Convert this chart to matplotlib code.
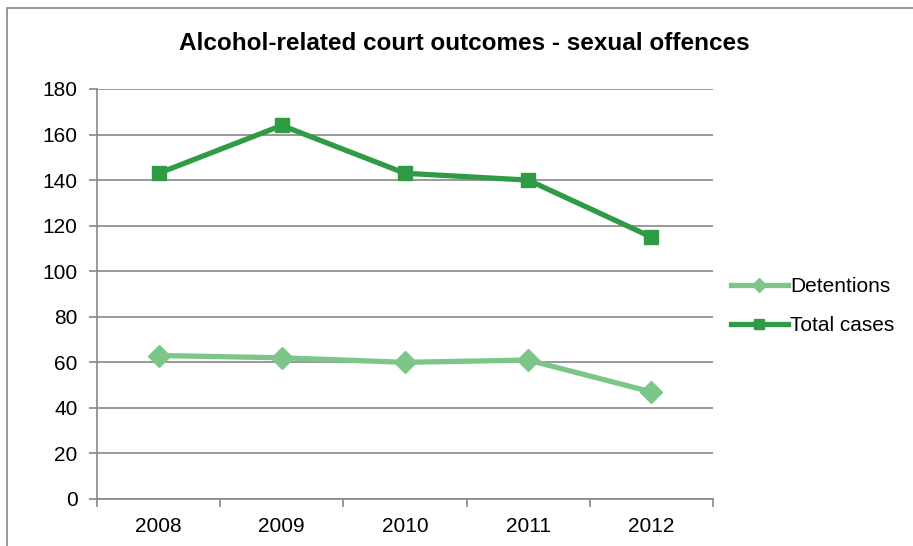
import matplotlib.pyplot as plt
from matplotlib.patches import Rectangle

plt.rcParams["font.family"] = ["Liberation Sans", "DejaVu Sans"]

years = ["2008", "2009", "2010", "2011", "2012"]
detentions = [63, 62, 60, 61, 47]
total_cases = [143, 164, 143, 140, 115]

grid_color = "#888888"

fig = plt.figure(figsize=(9.13, 5.46), dpi=100)
ax = fig.add_axes([97 / 913, 1 - 499 / 546, 616 / 913, 410 / 546])

x = list(range(len(years)))
ax.plot(x, detentions, color="#7dc68a", lw=3.8, marker="D", markersize=11,
        label="Detentions", solid_joinstyle="round", zorder=3)
ax.plot(x, total_cases, color="#2f9c45", lw=3.8, marker="s", markersize=10.5,
        label="Total cases", solid_joinstyle="round", zorder=3)

ax.set_xlim(-0.5, len(years) - 0.5)
ax.set_ylim(0, 180)
ax.set_yticks(range(0, 181, 20))
ax.set_xticks(x)
ax.set_xticklabels(years)
ax.set_xticks([i - 0.5 for i in range(len(years) + 1)], minor=True)
ax.tick_params(axis="x", which="major", length=0, pad=13, labelsize=15)
ax.tick_params(axis="x", which="minor", length=6, width=1.2, color=grid_color)
ax.tick_params(axis="y", length=6, width=1.2, color=grid_color, pad=8, labelsize=15)

ax.grid(axis="y", color=grid_color, lw=1.2)
ax.set_axisbelow(True)
for s in ["top", "right"]:
    ax.spines[s].set_visible(False)
for s in ["left", "bottom"]:
    ax.spines[s].set_color(grid_color)
    ax.spines[s].set_linewidth(1.2)

fig.text(464 / 913, 1 - 44 / 546, "Alcohol-related court outcomes - sexual offences",
         ha="center", va="center", fontsize=17.5, fontweight="bold")

fig.legend(loc="center left", bbox_to_anchor=(712 / 913, 1 - 306 / 546),
           frameon=False, fontsize=15, handlelength=2.75, markerscale=0.65,
           labelspacing=0.95, handletextpad=0.1)

fig.patches.append(Rectangle((7 / 913, -0.05), 1.2, 1 - 8 / 546 + 0.05,
                             transform=fig.transFigure, fill=False,
                             edgecolor=grid_color, lw=1.2))

fig.savefig("out.png", dpi=100)
